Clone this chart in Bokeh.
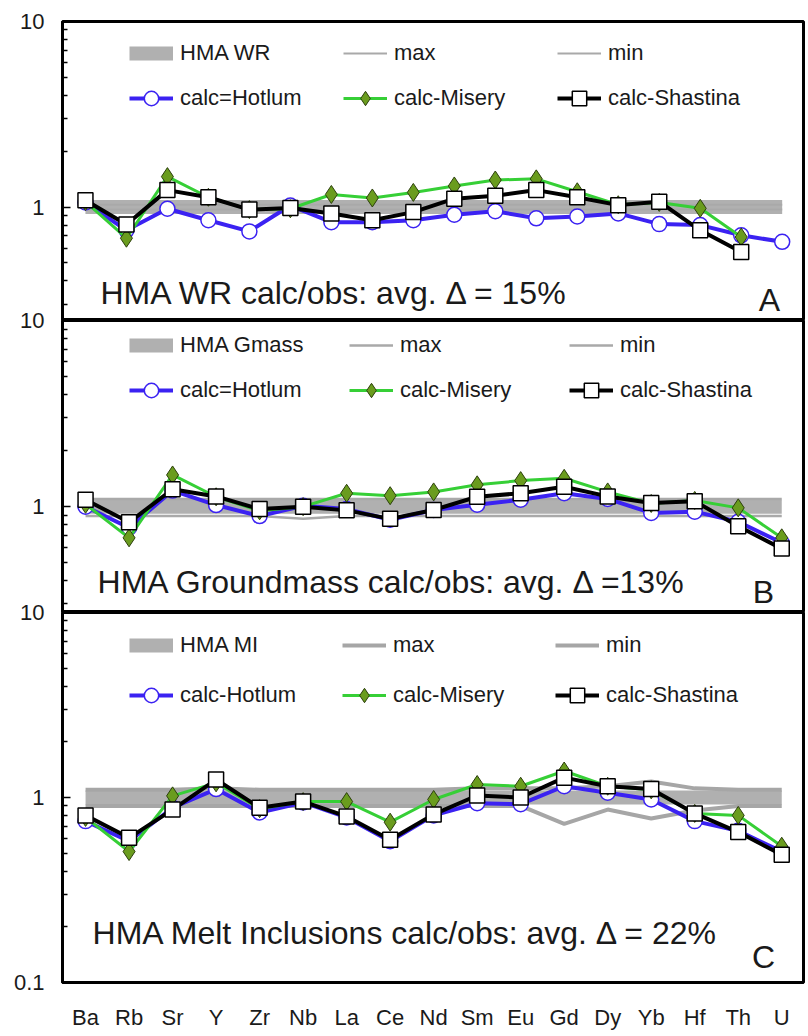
from bokeh.plotting import figure
from bokeh.layouts import column
from bokeh.models import (Range1d, FixedTicker, BasicTickFormatter,
                          Legend, LegendItem, Label)
from bokeh.embed import file_html
from bokeh.resources import INLINE

FONT = "Liberation Sans"

# Trace elements along the bottom axis
elements = ["Ba", "Rb", "Sr", "Y", "Zr", "Nb", "La", "Ce", "Nd",
            "Sm", "Eu", "Gd", "Dy", "Yb", "Hf", "Th", "U"]
elem_x = list(range(len(elements)))

# Log axis: labelled decades and the unlabelled 2..9 steps between them
decades = [0.1, 1, 10]
decade_steps = [0.2, 0.3, 0.4, 0.5, 0.6, 0.7, 0.8, 0.9,
                2, 3, 4, 5, 6, 7, 8, 9]

# Panel A: whole rock (18 positions in this table)
wr_x = list(range(18))
wr_obs = [1.0, 1.0, 1.0, 1.0, 1.0, 1.0, 1.0, 1.0, 1.0,
          1.0, 1.0, 1.0, 1.0, 1.0, 1.0, 1.0, 1.0, 1.0]
wr_max = [1.03, 1.03, 1.03, 1.03, 1.03, 1.03, 1.03, 1.03, 1.03,
          1.03, 1.03, 1.03, 1.03, 1.03, 1.03, 1.03, 1.03, 1.03]
wr_min = [0.97, 0.97, 0.97, 0.97, 0.97, 0.96, 0.97, 0.97, 0.97,
          0.97, 0.97, 0.97, 0.97, 0.97, 0.97, 0.97, 0.97, 0.97]
wr_hotlum = [1.06, 0.75, 0.98, 0.85, 0.74, 1.02, 0.83, 0.83, 0.85,
             0.91, 0.95, 0.87, 0.89, 0.925, 0.81, 0.80, 0.705, 0.65]
wr_misery = [1.07, 0.68, 1.46, 1.13, 0.97, 0.98, 1.17, 1.12, 1.20,
             1.30, 1.40, 1.42, 1.21, 1.03, 1.06, 0.985, 0.69]
wr_shastina = [1.09, 0.806, 1.235, 1.13, 0.97, 0.99, 0.925, 0.85, 0.94,
               1.11, 1.15, 1.235, 1.13, 1.025, 1.07, 0.75, 0.573]

# Panel B: groundmass
gm_obs = [1.0, 1.0, 1.0, 1.0, 1.0, 1.0, 1.0, 1.0, 1.0,
          1.0, 1.0, 1.0, 1.0, 1.0, 1.0, 1.0, 1.0]
gm_max = [1.10, 1.10, 1.10, 1.10, 1.10, 1.10, 1.10, 1.10, 1.10,
          1.10, 1.10, 1.10, 1.10, 1.10, 1.10, 1.10, 1.10]
gm_min = [0.89, 0.89, 0.89, 0.89, 0.89, 0.86, 0.89, 0.89, 0.89,
          0.89, 0.89, 0.89, 0.89, 0.89, 0.89, 0.89, 0.89]
gm_hotlum = [1.0, 0.77, 1.22, 1.02, 0.89, 1.01, 0.97, 0.85, 0.96,
             1.025, 1.09, 1.18, 1.10, 0.925, 0.94, 0.83, 0.64]
gm_misery = [1.03, 0.68, 1.48, 1.13, 0.95, 1.0, 1.18, 1.145, 1.20,
             1.31, 1.38, 1.42, 1.20, 1.04, 1.08, 0.985, 0.68]
gm_shastina = [1.09, 0.824, 1.24, 1.135, 0.97, 1.0, 0.955, 0.86, 0.96,
               1.13, 1.18, 1.28, 1.135, 1.045, 1.07, 0.785, 0.595]

# Panel C: melt inclusions
mi_obs = [1.0, 1.0, 1.0, 1.0, 1.0, 1.0, 1.0, 1.0, 1.0,
          1.0, 1.0, 1.0, 1.0, 1.0, 1.0, 1.0, 1.0]
mi_max = [1.10, 1.10, 1.10, 1.12, 1.10, 1.10, 1.10, 1.10, 1.10,
          1.12, 1.12, 1.12, 1.15, 1.22, 1.12, 1.10, 1.10]
mi_min = [0.90, 0.90, 0.90, 0.90, 0.90, 0.90, 0.90, 0.90, 0.90,
          0.90, 0.90, 0.72, 0.86, 0.77, 0.85, 0.90, 0.90]
mi_hotlum = [0.745, 0.58, 0.88, 1.11, 0.83, 0.94, 0.78, 0.58, 0.80,
             0.93, 0.92, 1.15, 1.06, 0.975, 0.745, 0.66, 0.51]
mi_misery = [0.78, 0.51, 1.02, 1.20, 0.87, 0.95, 0.95, 0.735, 0.975,
             1.175, 1.15, 1.39, 1.15, 1.10, 0.82, 0.80, 0.545]
mi_shastina = [0.80, 0.605, 0.86, 1.25, 0.88, 0.95, 0.79, 0.59, 0.81,
               1.025, 1.0, 1.28, 1.15, 1.11, 0.82, 0.65, 0.49]

BLUE = "#3b22f2"
GREEN = "#36cf36"
DIAMOND_FILL = "#6a9c1e"
DIAMOND_LINE = "#2c3f0c"
BAND = "#b0b0b0"
TEXT = "#1a1a1a"


def base_figure(height, x_range, y_range, top, bottom, show_x, margin):
    p = figure(width=808, height=height, x_range=x_range, y_range=y_range,
               y_axis_type="log", x_axis_location="below" if show_x else None,
               output_backend="svg", toolbar_location=None,
               min_border_left=62, min_border_right=5,
               min_border_top=top, min_border_bottom=bottom, margin=margin)
    p.outline_line_color = "black"
    p.outline_line_width = 3
    p.outline_line_alpha = 1.0
    p.grid.visible = False
    p.background_fill_color = "white"
    p.border_fill_color = None
    ya = p.yaxis[0]
    ya.ticker = FixedTicker(ticks=decades, minor_ticks=decade_steps)
    ya.formatter = BasicTickFormatter()
    ya.axis_line_color = "black"
    ya.axis_line_width = 3
    ya.major_tick_in = 8
    ya.major_tick_out = 0
    ya.minor_tick_in = 5
    ya.minor_tick_out = 0
    ya.major_tick_line_width = 1.5
    ya.minor_tick_line_width = 1.5
    ya.major_label_standoff = 18
    ya.major_label_text_font = FONT
    ya.major_label_text_font_size = "22px"
    ya.major_label_text_color = TEXT
    return p


def draw_series(p, x, obs, mx, mn, hot, mis, sha, minmax_width, minmax_color):
    r_obs = p.line(x, obs, line_width=14, line_color=BAND)
    r_max = p.line(x[:len(mx)], mx, line_width=minmax_width, line_color=minmax_color)
    r_min = p.line(x[:len(mn)], mn, line_width=minmax_width, line_color=minmax_color)

    xh = x[:len(hot)]
    r_hl = p.line(xh, hot, line_width=4, line_color=BLUE)
    r_hm = p.scatter(xh, hot, marker="circle", size=15, fill_color="white",
                     line_color=BLUE, line_width=1.5)
    xm = x[:len(mis)]
    r_ml = p.line(xm, mis, line_width=3, line_color=GREEN)
    r_mm = p.scatter(xm, mis, marker="diamond", size=18, fill_color=DIAMOND_FILL,
                     line_color=DIAMOND_LINE, line_width=1)
    xs = x[:len(sha)]
    r_sl = p.line(xs, sha, line_width=4, line_color="black")
    r_sm = p.scatter(xs, sha, marker="square", size=15, fill_color="white",
                     line_color="black", line_width=1.5)
    return ([r_obs], [r_max], [r_min], [r_hl, r_hm], [r_ml, r_mm], [r_sl, r_sm])


def add_legends(p, labels, rends, x, ys, label_width, spacing):
    rows = [(labels[0:3], rends[0:3]), (labels[3:6], rends[3:6])]
    for (labs, rs), y in zip(rows, ys):
        items = [LegendItem(label=l, renderers=r) for l, r in zip(labs, rs)]
        leg = Legend(items=items, orientation="horizontal", location=(x, y),
                     glyph_width=44, glyph_height=36, label_height=36,
                     label_standoff=7, label_width=label_width, spacing=spacing,
                     padding=0, margin=0, border_line_color=None,
                     background_fill_alpha=0, label_text_font=FONT,
                     label_text_font_size="22px", label_text_color=TEXT)
        p.add_layout(leg)


def add_text(p, x, y, text, align="left"):
    p.add_layout(Label(x=x, y=y, text=text, text_font=FONT, text_font_size="32px",
                       text_color=TEXT, text_align=align, text_baseline="alphabetic"))


# ---- Panel A
pa = base_figure(320, Range1d(-0.56, 17.52), Range1d(0.245, 10), 21, 0, False, (0, 0, 0, 0))
ra = draw_series(pa, wr_x, wr_obs, wr_max, wr_min, wr_hotlum, wr_misery, wr_shastina,
                 2, "#a9a9a9")
add_legends(pa, ["HMA WR", "max", "min", "calc=Hotlum", "calc-Misery", "calc-Shastina"],
            ra, 67, [249, 204], 150, 13)
add_text(pa, 0.367, 0.345, "HMA WR calc/obs: avg. Δ = 15%")
add_text(pa, 16.69, 0.316, "A", "center")

# ---- Panel B
pb = base_figure(304, Range1d(-0.53, 16.5), Range1d(0.27, 10), 12, 0, False, (-12, 0, 0, 0))
rb = draw_series(pb, elem_x, gm_obs, gm_max, gm_min, gm_hotlum, gm_misery, gm_shastina,
                 2.5, "#a9a9a9")
add_legends(pb, ["HMA Gmass", "max", "min", "calc=Hotlum", "calc-Misery", "calc-Shastina"],
            rb, 67, [249, 204], 156, 13)
add_text(pb, 0.275, 0.392, "HMA Groundmass calc/obs: avg. Δ =13%")
add_text(pb, 15.58, 0.35, "B", "center")

# ---- Panel C
pc = base_figure(436, Range1d(-0.53, 16.5), Range1d(0.0999, 10), 12, 54, True, (-12, 0, 0, 0))
rc = draw_series(pc, elem_x, mi_obs, mi_max, mi_min, mi_hotlum, mi_misery, mi_shastina,
                 4, "#a6a6a6")
add_legends(pc, ["HMA MI", "max", "min", "calc-Hotlum", "calc-Misery", "calc-Shastina"],
            rc, 67, [319, 269], 149, 13)
add_text(pc, 0.16, 0.186, "HMA Melt Inclusions calc/obs: avg. Δ = 22%")
add_text(pc, 15.58, 0.138, "C", "center")

xa = pc.xaxis[0]
xa.ticker = FixedTicker(ticks=elem_x)
xa.major_label_overrides = {i: name for i, name in zip(elem_x, elements)}
xa.major_tick_in = 0
xa.major_tick_out = 0
xa.minor_tick_in = 0
xa.minor_tick_out = 0
xa.axis_line_color = "black"
xa.axis_line_width = 3
xa.major_label_standoff = 22
xa.major_label_text_font = FONT
xa.major_label_text_font_size = "22px"
xa.major_label_text_color = TEXT

layout = column(pa, pb, pc, spacing=0)

with open("out.html", "w") as f:
    f.write(file_html(layout, INLINE, title="HMA calc/obs trace elements"))
